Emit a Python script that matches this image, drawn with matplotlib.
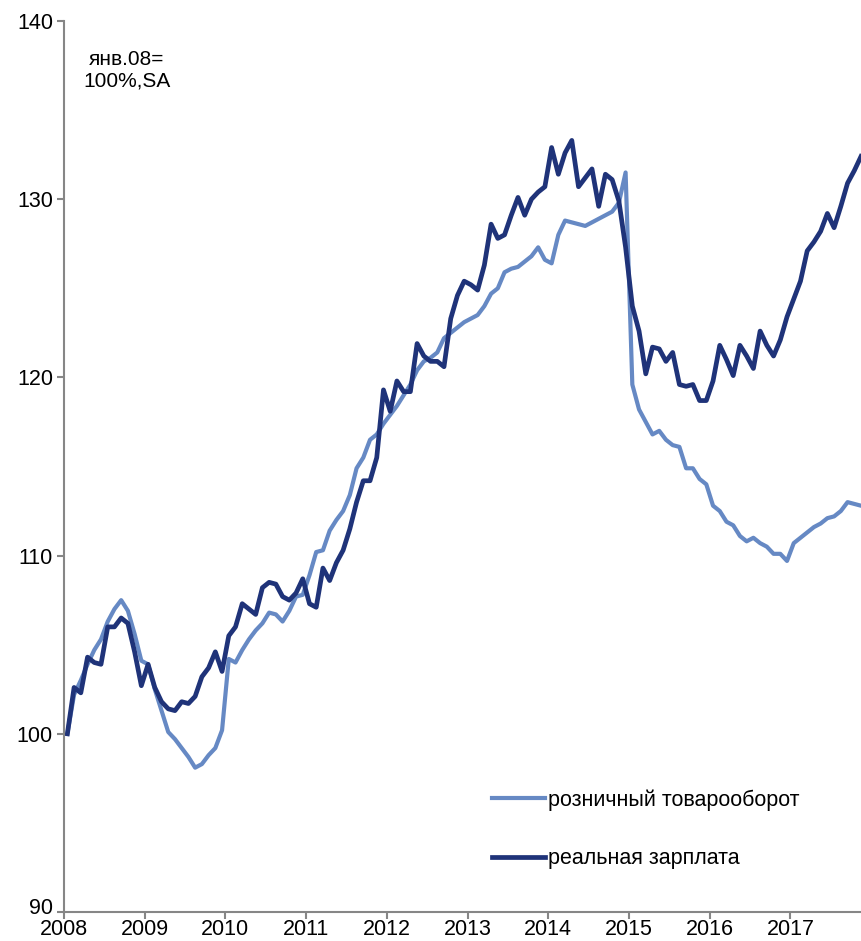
import numpy as np
import matplotlib
matplotlib.use("Agg")
import matplotlib.pyplot as plt
import matplotlib.transforms as mtransforms

plt.rcParams['font.family'] = ['Liberation Sans', 'DejaVu Sans']

# monthly index, Jan 2008 = 100 (seasonally adjusted), Jan 2008 .. Nov 2017
retail = [100.0, 102.2, 103.0, 103.9, 104.7, 105.3, 106.3, 107.0, 107.5, 106.9,
          105.6, 104.1, 103.9, 102.5, 101.3, 100.1, 99.7, 99.2, 98.7, 98.1,
          98.3, 98.8, 99.2, 100.2, 104.2, 104.0, 104.7, 105.3, 105.8, 106.2,
          106.8, 106.7, 106.3, 106.9, 107.7, 107.8, 108.9, 110.2, 110.3, 111.4,
          112.0, 112.5, 113.4, 114.9, 115.5, 116.5, 116.8, 117.4, 117.9, 118.4,
          119.0, 119.6, 120.4, 120.9, 121.1, 121.4, 122.2, 122.5, 122.8, 123.1,
          123.3, 123.5, 124.0, 124.7, 125.0, 125.9, 126.1, 126.2, 126.5, 126.8,
          127.3, 126.6, 126.4, 128.0, 128.8, 128.7, 128.6, 128.5, 128.7, 128.9,
          129.1, 129.3, 129.8, 131.5, 119.6, 118.2, 117.5, 116.8, 117.0, 116.5,
          116.2, 116.1, 114.9, 114.9, 114.3, 114.0, 112.8, 112.5, 111.9, 111.7,
          111.1, 110.8, 111.0, 110.7, 110.5, 110.1, 110.1, 109.7, 110.7, 111.0,
          111.3, 111.6, 111.8, 112.1, 112.2, 112.5, 113.0, 112.9, 112.8]

wage = [100.0, 102.6, 102.3, 104.3, 104.0, 103.9, 106.0, 106.0, 106.5, 106.2,
        104.6, 102.7, 103.9, 102.6, 101.8, 101.4, 101.3, 101.8, 101.7, 102.1,
        103.2, 103.7, 104.6, 103.5, 105.5, 106.0, 107.3, 107.0, 106.7, 108.2,
        108.5, 108.4, 107.7, 107.5, 107.9, 108.7, 107.3, 107.1, 109.3, 108.6,
        109.6, 110.3, 111.5, 113.0, 114.2, 114.2, 115.5, 119.3, 118.1, 119.8,
        119.2, 119.2, 121.9, 121.2, 120.9, 120.9, 120.6, 123.3, 124.6, 125.4,
        125.2, 124.9, 126.3, 128.6, 127.8, 128.0, 129.1, 130.1, 129.1, 130.0,
        130.4, 130.7, 132.9, 131.4, 132.6, 133.3, 130.7, 131.2, 131.7, 129.6,
        131.4, 131.1, 129.9, 127.3, 124.0, 122.6, 120.2, 121.7, 121.6, 120.9,
        121.4, 119.6, 119.5, 119.6, 118.7, 118.7, 119.8, 121.8, 121.0, 120.1,
        121.8, 121.2, 120.5, 122.6, 121.8, 121.2, 122.1, 123.4, 124.4, 125.4,
        127.1, 127.6, 128.2, 129.2, 128.4, 129.6, 130.9, 131.6, 132.4]

years = ['2008', '2009', '2010', '2011', '2012', '2013', '2014', '2015', '2016', '2017']
months = np.arange(len(retail))

fig = plt.figure(figsize=(8.61, 9.41), dpi=100)
ax = fig.add_axes([64 / 861, 1 - 912 / 941, 1 - 64 / 861, (912 - 21) / 941])

ax.plot(months, retail, color='#6689c4', lw=3.0, solid_joinstyle='round',
        label='розничный товарооборот')
ax.plot(months, wage, color='#1f3379', lw=3.4, solid_joinstyle='round',
        label='реальная зарплата')

ax.set_xlim(-0.5, 118)
ax.set_ylim(90, 140)
ax.set_yticks([90, 100, 110, 120, 130, 140])
ax.set_xticks(np.arange(len(years)) * 12 - 0.5)
ax.set_xticklabels(years)

for s in ['top', 'right']:
    ax.spines[s].set_visible(False)
for s in ['left', 'bottom']:
    ax.spines[s].set_color('#868686')
    ax.spines[s].set_linewidth(1.5)
ax.tick_params(axis='both', colors='#868686', labelcolor='black', labelsize=15.5,
               length=5, width=1.5, direction='out')
ax.tick_params(axis='x', pad=0)
ax.tick_params(axis='y', pad=3)

# nudge the "90" label up a little so it does not run into "2008"
lab90 = ax.get_yticklabels()[0]
lab90.set_transform(lab90.get_transform() +
                    mtransforms.ScaledTranslation(0, 4 / 72, fig.dpi_scale_trans))

ax.text(0.079, 0.945, 'янв.08=\n100%,SA', transform=ax.transAxes, ha='center',
        va='center', fontsize=15, linespacing=1.2)

ax.legend(loc='center left', bbox_to_anchor=(0.537, 0.093), frameon=False,
          fontsize=15.5, handlelength=2.45, handletextpad=0.15, labelspacing=1.75,
          borderpad=0, borderaxespad=0)

fig.savefig('out.png', dpi=100)
